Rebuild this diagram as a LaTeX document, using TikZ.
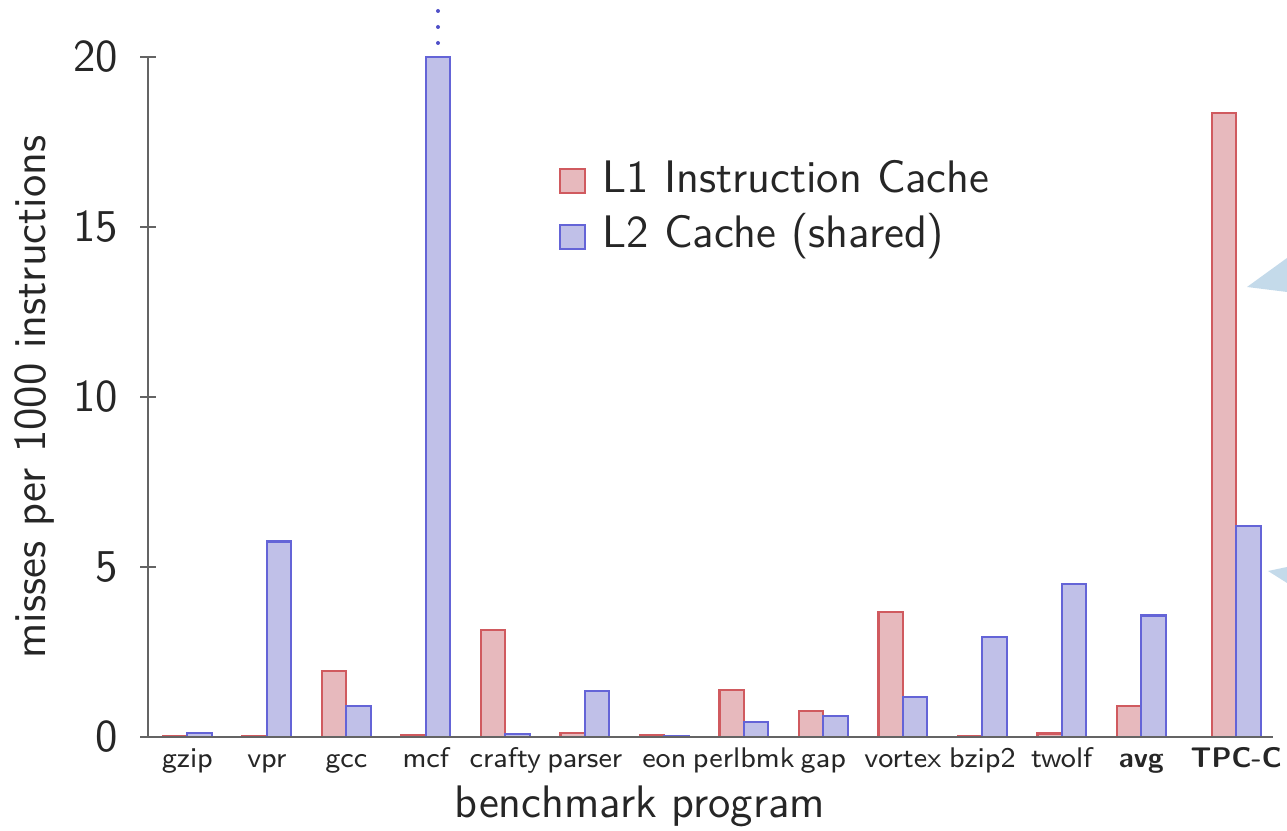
\documentclass[tikz,border=0pt]{standalone}
\definecolor{redfill}{RGB}{231,185,189}
\definecolor{redline}{RGB}{208,90,95}
\definecolor{bluefill}{RGB}{192,192,232}
\definecolor{blueline}{RGB}{100,100,215}
\definecolor{axisgray}{RGB}{100,100,100}
\definecolor{calloutblue}{RGB}{196,218,234}
\definecolor{dotblue}{RGB}{80,80,200}
\begin{document}
\begin{tikzpicture}[x=0.25pt,y=-0.25pt,
  redbar/.style={fill=redfill,draw=redline,line width=0.55pt},
  bluebar/.style={fill=bluefill,draw=blueline,line width=0.55pt},
  axisline/.style={draw=axisgray,line width=0.55pt},
  bigtext/.style={font=\sffamily\fontsize{11.4}{13.5}\selectfont,inner sep=0pt,text=black!85},
  ticktext/.style={font=\sffamily\fontsize{7.1}{8.5}\selectfont,inner sep=0pt,text=black!85},
  callout/.style={fill=calloutblue,draw=none}]
\useasboundingbox (0,0) rectangle (1287,831);
% callout pointers at right edge
\fill[callout] (1247,287) -- (1287,258) -- (1287,292) -- cycle;
\fill[callout] (1268,571) -- (1287,567) -- (1287,583) -- cycle;
% bars
\foreach \L/\r/\b/\n [count=\i] in {163/0.03/0.12/gzip, 242.5/0.04/5.75/vpr, 322/1.95/0.91/gcc,
  401.5/0.05/20/mcf, 481/3.15/0.08/crafty, 560.5/0.11/1.35/parser, 640/0.07/0.02/eon,
  719.5/1.38/0.44/perlbmk, 799/0.76/0.61/gap, 878.5/3.67/1.18/vortex, 958/0.03/2.95/bzip2,
  1037.5/0.1/4.5/twolf}{
  \draw[redbar] (\L,737) rectangle ({\L+24.3},{737-34*\r});
  \draw[bluebar] ({\L+24.3},737) rectangle ({\L+48.6},{737-34*\b});
  \node[ticktext,anchor=base] (lab\i) at ({\L+24.3},768) {\n};
}
\draw[redbar] (1117,737) rectangle (1141.3,706.4);
\draw[bluebar] (1141.3,737) rectangle (1165.6,615.6);
\node[ticktext,anchor=base,font=\sffamily\bfseries\fontsize{7.1}{8.5}\selectfont] (labavg) at (1141.3,768) {avg};
\draw[redbar] (1212,737) rectangle (1236.3,113.1);
\draw[bluebar] (1236.3,737) rectangle (1260.6,526.2);
\node[ticktext,anchor=base,font=\sffamily\bfseries\fontsize{7.1}{8.5}\selectfont] (labtpc) at (1236.3,768) {TPC-C};
% dots above mcf
\foreach \y in {11,27,43}{\fill[dotblue] (438,\y) circle (2);}
% axes
\draw[axisline] (141,737) -- (1273,737);
\draw[axisline] (148,737) -- (148,57);
\foreach \v in {0,5,10,15,20}{
  \draw[axisline] (140,{737-34*\v}) -- (156,{737-34*\v});
  \node[bigtext,anchor=east] (yt\v) at (119,{737-34*\v}) {\v};
}
\node[bigtext,rotate=90] (ylab) at (35,397) {misses per 1000 instructions};
\node[bigtext,anchor=base] (xlab) at (640,818) {benchmark program};
% legend
\draw[redbar] (560,169) rectangle (585,193);
\node[bigtext,anchor=base west] (leg1) at (602,193) {L1 Instruction Cache};
\draw[bluebar] (560,225) rectangle (585,249);
\node[bigtext,anchor=base west] (leg2) at (602,248) {L2 Cache (shared)};
\end{tikzpicture}
\end{document}
